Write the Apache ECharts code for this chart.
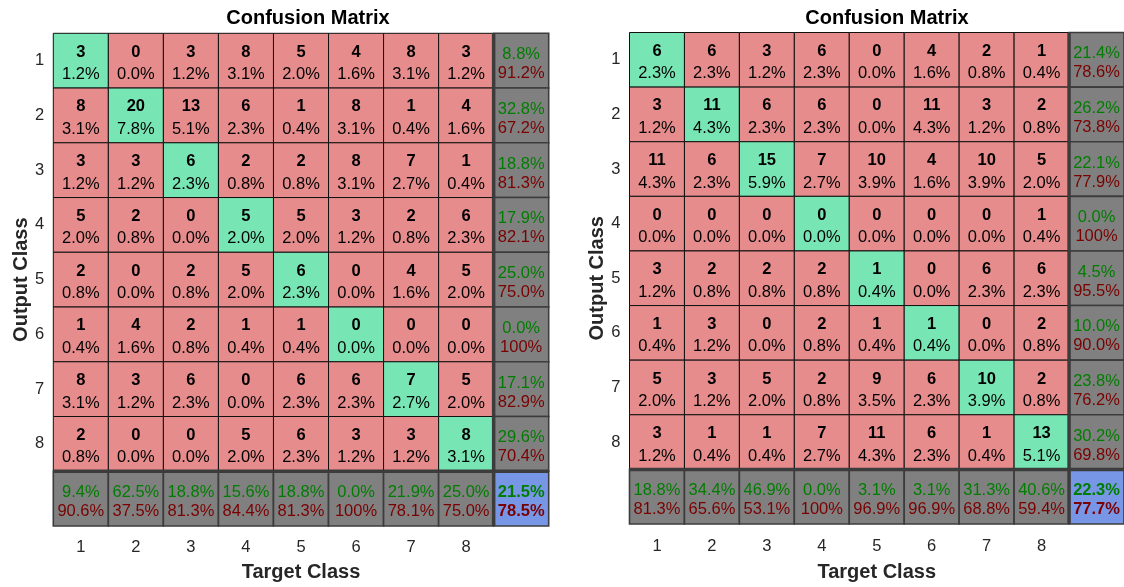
<!DOCTYPE html>
<html>
<head>
<meta charset="utf-8">
<script src="https://cdn.jsdelivr.net/npm/echarts@6/dist/echarts.min.js"></script>
<style>
html,body{margin:0;padding:0;background:#fff;}
#chart{width:1124px;height:587px;}
</style>
</head>
<body>
<div id="chart"></div>
<script>
// ---- data ----
const classLabels = ['1','2','3','4','5','6','7','8'];
const titleText = 'Confusion Matrix';
const xName = 'Target Class';
const yName = 'Output Class';
// rows = Output Class, cols = Target Class
const countsLeft = [
  [3, 0, 3, 8, 5, 4, 8, 3],
  [8, 20, 13, 6, 1, 8, 1, 4],
  [3, 3, 6, 2, 2, 8, 7, 1],
  [5, 2, 0, 5, 5, 3, 2, 6],
  [2, 0, 2, 5, 6, 0, 4, 5],
  [1, 4, 2, 1, 1, 0, 0, 0],
  [8, 3, 6, 0, 6, 6, 7, 5],
  [2, 0, 0, 5, 6, 3, 3, 8]
];
const countsRight = [
  [6, 6, 3, 6, 0, 4, 2, 1],
  [3, 11, 6, 6, 0, 11, 3, 2],
  [11, 6, 15, 7, 10, 4, 10, 5],
  [0, 0, 0, 0, 0, 0, 0, 1],
  [3, 2, 2, 2, 1, 0, 6, 6],
  [1, 3, 0, 2, 1, 1, 0, 2],
  [5, 3, 5, 2, 9, 6, 10, 2],
  [3, 1, 1, 7, 11, 6, 1, 13]
];

// ---- styles ----
const FONT = '"Liberation Sans", Arial, Helvetica, sans-serif';
const C_DIAG = '#78E6B4';
const C_OFF = '#E68C8C';
const C_SUM = '#808080';
const C_TOT = '#7896E6';
const T_GOOD = '#007d00';
const T_BAD = '#7a0000';
const CELL_FS = 16.5;

function fmt(frac) {
  if (!isFinite(frac)) frac = 0;
  const p = Math.round(frac * 1000) / 10;
  return p === 100 ? '100%' : p.toFixed(1) + '%';
}

function buildCells(m) {
  const n = m.length;
  let total = 0, diag = 0;
  const rowSum = new Array(n).fill(0), colSum = new Array(n).fill(0);
  for (let r = 0; r < n; r++) for (let c = 0; c < n; c++) {
    total += m[r][c]; rowSum[r] += m[r][c]; colSum[c] += m[r][c];
    if (r === c) diag += m[r][c];
  }
  const cells = [];
  for (let r = 0; r < n; r++) for (let c = 0; c < n; c++) {
    cells.push({ v: [c, r], kind: r === c ? 'diag' : 'off', a: String(m[r][c]), b: fmt(m[r][c] / total) });
  }
  for (let r = 0; r < n; r++) {
    cells.push({ v: [n, r], kind: 'sumc', a: fmt(m[r][r] / rowSum[r]), b: fmt(1 - m[r][r] / rowSum[r]) });
  }
  for (let c = 0; c < n; c++) {
    cells.push({ v: [c, n], kind: 'sumr', a: fmt(m[c][c] / colSum[c]), b: fmt(1 - m[c][c] / colSum[c]) });
  }
  cells.push({ v: [n, n], kind: 'tot', a: fmt(diag / total), b: fmt(1 - diag / total) });
  return cells;
}

const cellsLeft = buildCells(countsLeft);
const cellsRight = buildCells(countsRight);

function makeRender(cells) {
  return function (params, api) {
    const cell = cells[params.dataIndex];
    const ctr = api.coord([api.value(0), api.value(1)]);
    const sz = api.size([1, 1]);
    const w = sz[0], h = sz[1];
    const x0 = ctr[0] - w / 2, y0 = ctr[1] - h / 2;
    const kind = cell.kind;
    const isSum = kind === 'sumc' || kind === 'sumr' || kind === 'tot';
    const fill = kind === 'diag' ? C_DIAG : kind === 'off' ? C_OFF : kind === 'tot' ? C_TOT : C_SUM;
    const children = [{
      type: 'rect',
      shape: { x: x0, y: y0, width: w, height: h },
      style: { fill: fill, stroke: isSum ? '#3c3c3c' : '#111111', lineWidth: isSum ? 1.6 : 1 },
      z2: isSum ? 5 : 1
    }];
    if (isSum) {
      if (kind === 'sumc' || kind === 'tot') {
        children.push({ type: 'line', shape: { x1: x0, y1: y0, x2: x0, y2: y0 + h }, style: { stroke: '#3c3c3c', lineWidth: 3.5 }, z2: 10 });
      }
      if (kind === 'sumr' || kind === 'tot') {
        children.push({ type: 'line', shape: { x1: x0, y1: y0, x2: x0 + w, y2: y0 }, style: { stroke: '#3c3c3c', lineWidth: 3.5 }, z2: 10 });
      }
      const bold = kind === 'tot' ? 'bold' : 'normal';
      children.push({ type: 'text', z2: 20, style: { text: cell.a, x: ctr[0], y: ctr[1] - 6, align: 'center', verticalAlign: 'middle', fontSize: CELL_FS, fontWeight: bold, fontFamily: FONT, fill: T_GOOD } });
      children.push({ type: 'text', z2: 20, style: { text: cell.b, x: ctr[0], y: ctr[1] + 13, align: 'center', verticalAlign: 'middle', fontSize: CELL_FS, fontWeight: bold, fontFamily: FONT, fill: T_BAD } });
    } else {
      children.push({ type: 'text', z2: 20, style: { text: cell.a, x: ctr[0], y: ctr[1] - 8.5, align: 'center', verticalAlign: 'middle', fontSize: CELL_FS, fontWeight: 'bold', fontFamily: FONT, fill: '#000' } });
      children.push({ type: 'text', z2: 20, style: { text: cell.b, x: ctr[0], y: ctr[1] + 14, align: 'center', verticalAlign: 'middle', fontSize: CELL_FS, fontWeight: 'normal', fontFamily: FONT, fill: '#000' } });
    }
    return { type: 'group', children: children };
  };
}

const grids = [
  { left: 53.3, top: 33.3, width: 495.4, height: 496 },
  { left: 629.5, top: 32.5, width: 500, height: 499 }
];
const catData = classLabels.concat(['']);

function xAx(i, margin, gap) {
  return {
    type: 'category', gridIndex: i, data: catData, position: 'bottom',
    axisLine: { show: false }, axisTick: { show: false }, splitLine: { show: false },
    axisLabel: { color: '#262626', fontSize: 16.5, fontFamily: FONT, margin: margin },
    name: xName, nameLocation: 'middle', nameGap: gap,
    nameTextStyle: { color: '#262626', fontSize: 20, fontWeight: 'bold', fontFamily: FONT }
  };
}
function yAx(i) {
  return {
    type: 'category', gridIndex: i, data: catData, inverse: true,
    axisLine: { show: false }, axisTick: { show: false }, splitLine: { show: false },
    axisLabel: { color: '#262626', fontSize: 16.5, fontFamily: FONT, margin: 9, padding: [4, 0, 0, 0] },
    name: yName, nameLocation: 'middle', nameGap: 22, nameRotate: 90,
    nameTextStyle: { color: '#262626', fontSize: 20, fontWeight: 'bold', fontFamily: FONT }
  };
}

const chart = echarts.init(document.getElementById('chart'), null, { renderer: 'canvas' });
chart.setOption({
  animation: false,
  backgroundColor: '#ffffff',
  title: [
    { text: titleText, left: 303, top: 3, textAlign: 'center', textStyle: { color: '#000', fontSize: 20, fontWeight: 'bold', fontFamily: FONT } },
    { text: titleText, left: 882, top: 3, textAlign: 'center', textStyle: { color: '#000', fontSize: 20, fontWeight: 'bold', fontFamily: FONT } }
  ],
  grid: grids,
  xAxis: [xAx(0, 13, 36), xAx(1, 14, 38)],
  yAxis: [yAx(0), yAx(1)],
  series: [
    { type: 'custom', xAxisIndex: 0, yAxisIndex: 0, data: cellsLeft.map(c => c.v), renderItem: makeRender(cellsLeft), clip: false },
    { type: 'custom', xAxisIndex: 1, yAxisIndex: 1, data: cellsRight.map(c => c.v), renderItem: makeRender(cellsRight), clip: false }
  ]
});
</script>
</body>
</html>
